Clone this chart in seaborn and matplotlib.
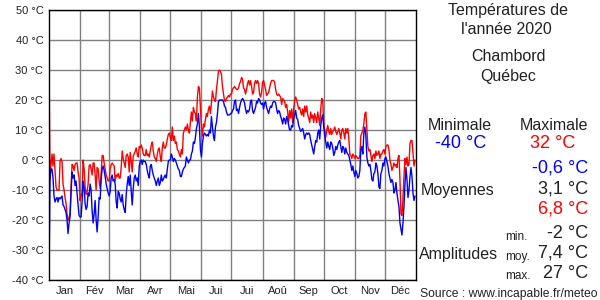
import numpy as np
import pandas as pd
import seaborn as sns
import matplotlib.pyplot as plt

MONTHS = ["Jan", "Fév", "Mar", "Avr", "Mai", "Jui", "Jui", "Aoû", "Sep", "Oct", "Nov", "Déc"]
MONTH_DAYS = [31, 29, 31, 30, 31, 30, 31, 31, 30, 31, 30, 31]

# daily maxima (°C), one list per month
TMAX_JAN = [32, -6.5, -1.5, 2, -2, 2, -3.5, -9, -10, -10, -10, -0.5, 0.5, -0.5, -8, -10,
            -12.5, -14.5, -18, -20, -19.5, -17.5, -9, -1.5, -2, -3.5, -1.5, -1, -1, -4, -6]
TMAX_FEB = [-13.5, -12, -11, 0, -3, -9, -11.5, -10.5, -8, -2, -1.5, -3, -5, -1, -1, -5,
            -10, -2.5, -3, -7, -9.5, -4.5, 1.5, 1.5, -1, -3, -5, -6, -7]
TMAX_MAR = [-7, -3, -1.5, -1, -1.5, -2, -7, -5, -5.5, -4.5, -6, -6, -2.5, 3, 0.5, -1,
            -2.5, 1.5, 2, 1, -4, 2.5, -0.5, -4, 1.5, 2, 3, 4, 2, 1, 4.5]
TMAX_APR = [4, 5, 4, 2, 1.5, 1.5, 3.5, 1.5, 2, 1, 3, 5, 6, 3, 1, 0.5, -0.5, 2, 3.5, 4,
            1, -0.5, 4, 6, 4, 4, 5, 7, 8.5, 9]
TMAX_MAY = [7.5, 6.5, 11, 6.5, 8, 5.5, 6, 3.5, 3, 2, 1, 3.5, 2, 9, 10, 11, 10, 12, 10, 9,
            12.5, 16, 13, 17.5, 16, 15.5, 13, 21, 24.5, 24, 17.5]
TMAX_JUN = [11, 8, 12, 11, 13.5, 15.5, 14.5, 17, 18, 15.5, 19, 23, 21, 20, 19.5, 23.5,
            26.5, 29.5, 30, 29.5, 28.5, 24.5, 22, 20, 19.5, 20.5, 21, 21.5, 21, 22]
TMAX_JUL = [22, 23.5, 24, 24.5, 24, 23.5, 23.5, 24, 25.5, 26, 27.5, 27, 24, 23.5, 22,
            23.5, 25.5, 26.5, 25, 26.5, 24.5, 22, 22.5, 25.5, 26.5, 25.5, 26.5, 25.5, 22, 21, 22.5]
TMAX_AUG = [26, 26.5, 25, 23.5, 21.5, 22, 22.5, 24, 25.5, 26.5, 26.5, 26.5, 26, 23.5, 22,
            21.5, 22, 21.5, 21, 18.5, 20.5, 20, 19.5, 17.5, 18.5, 16, 12.5, 16.5, 14, 17, 12.5]
TMAX_SEP = [17, 20, 21, 20, 18.5, 17, 17.5, 16, 15, 17, 14.5, 18, 16, 18, 15, 14, 12.5,
            16, 14, 15, 12.5, 15.5, 14, 12.5, 16, 14, 11.5, 17, 20.5, 20]
TMAX_OCT = [11.5, 10, 7.5, 10, 11.5, 9.5, 8.5, 10.5, 8.5, 9.5, 10, 11, 9.5, 8.5, 9.5,
            10.5, 9, 7, 10, 10.5, 9, 7, 10.5, 9, 10.5, 7, 2, 1.5, 0.5, 2, 1.5]
TMAX_NOV = [0.5, 1.5, 1, 0.5, 0.5, 1.5, 8, 9, 10, 12, 15.5, 16, 10, 4.5, 3, 3.5, 1.5,
            -0.5, 1.5, 2, 0.5, 3, 1.5, 2, 3, 0.5, 2, 2, 3, 3.5]
TMAX_DEC = [2, 4.5, 5, 5, 3.5, 0, -1.5, -3.5, -2.5, -1, -2, -1.5, -2.5, 0.5, 1.5, -6.5,
            -18, -18.5, -13, -5.5, 0.5, -1.5, 1, -2, -1.5, 5.5, 6.5, 6.5, 2, -2, 0]

# daily minima (°C)
TMIN_JAN = [-40, -6, -3, -3, -6, -12, -14, -13, -12.5, -14, -12.5, -13, -12.5, -12, -15,
            -15.5, -16.5, -17.5, -20, -24.5, -21, -19, -11, -4, -6, -5, -8.5, -7, -11, -15, -18.5]
TMIN_FEB = [-19, -19, -14, -7, -9, -14.5, -16.5, -15.5, -11, -12, -8, -10, -17, -21, -18,
            -13.5, -20, -24, -19, -12.5, -13, -6.5, -3, -2, -3.5, -5.5, -8, -9.5, -11]
TMIN_MAR = [-12, -10.5, -6, -5, -7, -6.5, -8, -14, -16, -10.5, -11, -13, -14, -11.5, -15,
            -16.5, -17.5, -11.5, -8, -5.5, -8.5, -5, -10.5, -15, -9.5, -6, -5, -7, -6, -8.5, -2]
TMIN_APR = [-0.5, 0, -1.5, 0, -0.5, -0.5, -1.5, -3.5, -5, -6, -2, -1.5, -3.5, -5, -6, -7,
            -8.5, -7, -6, -8.5, -7.5, -5, -7, -6.5, -5.5, -5, -6, -3, -0.5, 0]
TMIN_MAY = [0, 2, 1, -0.5, 0.5, 0, -1, -2, -3, -3.5, -5.5, -5.5, -4, -3, -2.5, -2, 1, 0,
            -1, 0, 0, 2, 3, 6, 5.5, 7.5, 10.5, 12, 15.5, 11, 3.5]
TMIN_JUN = [1, 5.5, 8, 9, 8.5, 8, 8.5, 8, 10, 9, 14.5, 11, 8, 6.5, 11, 12.5, 15.5, 19.5,
            20, 20, 20, 20, 19.5, 18, 17.5, 16, 15, 15, 15, 15.5]
TMIN_JUL = [15.5, 16.5, 17, 19.5, 20, 16.5, 17, 15.5, 17.5, 19, 20, 20.5, 20, 19, 17,
            15.5, 16.5, 16, 17, 19.5, 20, 16.5, 15.5, 16.5, 17.5, 19.5, 19, 20.5, 20, 19, 18.5]
TMIN_AUG = [19, 17, 19, 19.5, 17.5, 16.5, 15.5, 17, 18, 17.5, 19, 19.5, 19.5, 19, 17,
            15.5, 16.5, 16, 14.5, 13.5, 12, 14, 13.5, 12, 14.5, 13.5, 11.5, 10, 10, 11.5, 11]
TMIN_SEP = [14, 15, 16.5, 14, 13.5, 11.5, 10.5, 9.5, 10, 10.5, 9, 7, 8.5, 9, 8.5, 9, 8.5,
            6.5, 5, 3.5, 2, 4.5, 6.5, 6, 9, 10, 7, 11.5, 14, 15]
TMIN_OCT = [11, 8, 6, 4, 6, 4.5, 3.5, 6, 5.5, 4, 1.5, 2.5, 4.5, 3.5, 5, 6, 6.5, 4.5, 2.5,
            4.5, 4, 2, 4, 2.5, 2, 1.5, 0, -1.5, -3.5, -2, -4]
TMIN_NOV = [-5.5, -3.5, -4.5, -6, -5.5, -3.5, 3.5, 4.5, 2, 9, 11, 8, 1, -1, -2, -1.5,
            -3.5, -6.5, -7, -4.5, -4, -1, -2, -4.5, -9, -9.5, -4.5, -3.5, -1, -2]
TMIN_DEC = [0.5, 1, -0.5, -2, -4.5, -6, -7.5, -6.5, -7.5, -11, -10, -7.5, -11, -13.5,
            -15.5, -21, -23, -25, -21, -15.5, -8, -2.5, -6.5, -12.5, -10, -5.5, -2.5, -5.5,
            -11, -13.5, -12]

TMAX = sum([TMAX_JAN, TMAX_FEB, TMAX_MAR, TMAX_APR, TMAX_MAY, TMAX_JUN, TMAX_JUL,
            TMAX_AUG, TMAX_SEP, TMAX_OCT, TMAX_NOV, TMAX_DEC], [])
TMIN = sum([TMIN_JAN, TMIN_FEB, TMIN_MAR, TMIN_APR, TMIN_MAY, TMIN_JUN, TMIN_JUL,
            TMIN_AUG, TMIN_SEP, TMIN_OCT, TMIN_NOV, TMIN_DEC], [])

df = pd.DataFrame({"jour": np.arange(len(TMAX)), "tmax": TMAX, "tmin": TMIN})

sns.set_theme(style="white")
plt.rcParams['font.family'] = ['Liberation Sans', 'DejaVu Sans']
TXT = "#222222"

fig = plt.figure(figsize=(6, 3), dpi=100)
ax = fig.add_axes([49 / 600, 20 / 300, 367 / 600, 270 / 300])

sns.lineplot(data=df, x="jour", y="tmax", color="#ff0000", lw=1, ax=ax, legend=False)
sns.lineplot(data=df, x="jour", y="tmin", color="#0000ff", lw=1, ax=ax, legend=False)

ax.set_xlim(0, 366)
ax.set_ylim(-40, 50)
ax.set_xlabel("")
ax.set_ylabel("")

starts = np.cumsum([0] + MONTH_DAYS)
ax.set_xticks(starts[1:-1])
ax.set_xticklabels([])
ax.set_xticks(starts[:-1] + np.array(MONTH_DAYS) / 2, minor=True)
ax.set_xticklabels(MONTHS, minor=True, fontsize=8, color=TXT)
ax.tick_params(axis="x", which="both", length=0, pad=4)

yt = list(range(-40, 51, 10))
ax.set_yticks(yt)
ax.set_yticklabels([f"{v} °C" for v in yt], fontsize=8, color=TXT)
ax.tick_params(axis="y", length=0, pad=4)

ax.grid(True, which="major", color="#808080", lw=1)
ax.set_axisbelow(True)
for s in ax.spines.values():
    s.set_color("black")
    s.set_linewidth(1)


def txt(x, y, s, size=11.5, color=TXT, ha="center"):
    fig.text(x / 600, 1 - y / 300, s, fontsize=size, color=color, ha=ha, va="center")


txt(508, 10, "Températures de")
txt(506, 30, "l'année 2020")
txt(508, 57, "Chambord")
txt(508, 77, "Québec")
txt(460, 125, "Minimale")
txt(554, 125, "Maximale")
txt(461, 143, "-40 °C", 13, "#0000ff")
txt(553, 143, "32 °C", 13, "#ff0000")
txt(588, 168, "-0,6 °C", 13, "#0000ff", "right")
txt(458, 190, "Moyennes")
txt(588, 189, "3,1 °C", 13, TXT, "right")
txt(588, 209, "6,8 °C", 13, "#ff0000", "right")
txt(505, 237, "min.", 8.5, TXT, "left")
txt(588, 233, "-2 °C", 13, TXT, "right")
txt(459, 254, "Amplitudes")
txt(505, 257, "moy.", 8.5, TXT, "left")
txt(588, 253, "7,4 °C", 13, TXT, "right")
txt(505, 276, "max.", 8.5, TXT, "left")
txt(588, 273, "27 °C", 13, TXT, "right")
txt(420, 294, "Source : www.incapable.fr/meteo", 8.7, TXT, "left")

fig.savefig("out.png", dpi=100)
